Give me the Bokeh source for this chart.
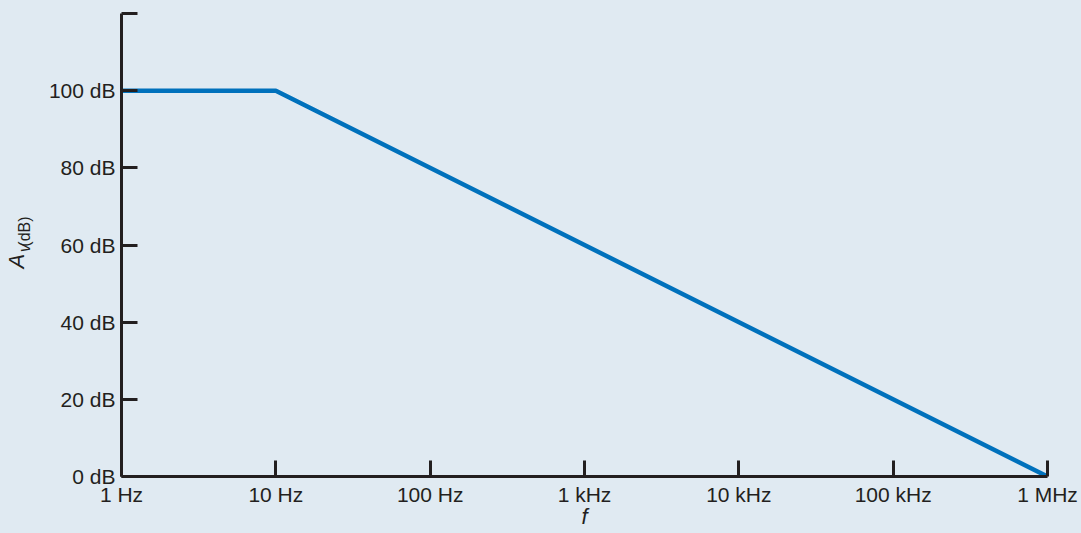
import math
from bokeh.plotting import figure
from bokeh.models import FixedTicker, Range1d
from bokeh.layouts import row
from bokeh.core.properties import value
from bokeh.embed import file_html
from bokeh.resources import INLINE

# ---- data ----
freq_hz = [1, 10, 1000000]
gain_db = [100, 100, 0]
x_ticks = [1, 10, 100, 1000, 10000, 100000, 1000000]
x_tick_labels = ["1 Hz", "10 Hz", "100 Hz", "1 kHz", "10 kHz", "100 kHz", "1 MHz"]
y_ticks = [0, 20, 40, 60, 80, 100, 120]
y_tick_labels = ["0 dB", "20 dB", "40 dB", "60 dB", "80 dB", "100 dB", ""]
x_title = "f"
y_title_main = "A"
y_title_sub_italic = "v"
y_title_sub_plain = "(dB)"

BG = "#e0eaf2"
INK = "#231f20"
BLUE = "#0071bc"
FONT = "Liberation Sans"

W_LEFT = 40
W_TOTAL = 1081
H_TOTAL = 533

# ---- main chart ----
p = figure(width=W_TOTAL - W_LEFT, height=H_TOTAL, x_axis_type="log",
           x_range=(1, 1e6), y_range=(0, 120),
           output_backend="svg", toolbar_location=None, title=None,
           min_border_left=121 - W_LEFT, min_border_right=34, min_border_top=13,
           min_border_bottom=57,
           background_fill_color=BG, border_fill_color=BG, outline_line_color=None)
p.xgrid.visible = False
p.ygrid.visible = False

p.line(freq_hz, gain_db, line_width=4.5, color=BLUE)

for ax in (p.xaxis[0], p.yaxis[0]):
    ax.axis_line_color = INK
    ax.axis_line_width = 3
    ax.major_tick_line_color = INK
    ax.major_tick_line_width = 3
    ax.major_tick_in = 16
    ax.major_tick_out = 0
    ax.minor_tick_line_color = None
    ax.major_label_text_font = FONT
    ax.major_label_text_font_size = "21px"
    ax.major_label_text_color = INK
p.xaxis[0].major_label_standoff = 6
p.yaxis[0].major_label_standoff = 6

p.xaxis[0].ticker = FixedTicker(ticks=x_ticks, minor_ticks=[])
p.xaxis[0].major_label_overrides = {t: s for t, s in zip(x_ticks, x_tick_labels)}
p.yaxis[0].ticker = FixedTicker(ticks=y_ticks, minor_ticks=[])
p.yaxis[0].major_label_overrides = {t: s for t, s in zip(y_ticks, y_tick_labels)}

p.xaxis[0].axis_label = x_title
p.xaxis[0].axis_label_text_font = FONT
p.xaxis[0].axis_label_text_font_style = "italic"
p.xaxis[0].axis_label_text_font_size = "22px"
p.xaxis[0].axis_label_text_color = INK
p.xaxis[0].axis_label_standoff = -5

# ---- narrow strip on the left holding the rotated y title A_v(dB) ----
q = figure(width=W_LEFT, height=H_TOTAL, x_range=Range1d(0, W_LEFT),
           y_range=Range1d(0, H_TOTAL), output_backend="svg", toolbar_location=None,
           title=None, x_axis_location=None, y_axis_location=None,
           min_border_left=0, min_border_right=0, min_border_top=0, min_border_bottom=0,
           background_fill_color=BG, border_fill_color=BG, outline_line_color=None)
q.xgrid.visible = False
q.ygrid.visible = False

q.text(x=[16], y=[H_TOTAL - 285], text=[y_title_main], angle=math.pi / 2,
       text_align="center", text_baseline="middle", text_font=value(FONT),
       text_font_style="italic", text_font_size="22px", text_color=INK)
q.text(x=[24], y=[H_TOTAL - 270], text=[y_title_sub_italic], angle=math.pi / 2,
       text_align="center", text_baseline="middle", text_font=value(FONT),
       text_font_style="italic", text_font_size="16px", text_color=INK)
q.text(x=[24], y=[H_TOTAL - 251], text=[y_title_sub_plain], angle=math.pi / 2,
       text_align="center", text_baseline="middle", text_font=value(FONT),
       text_font_size="16px", text_color=INK)

layout = row(q, p, spacing=0)
layout.styles = {"background-color": BG}

open("out.html", "w").write(file_html(layout, INLINE))
